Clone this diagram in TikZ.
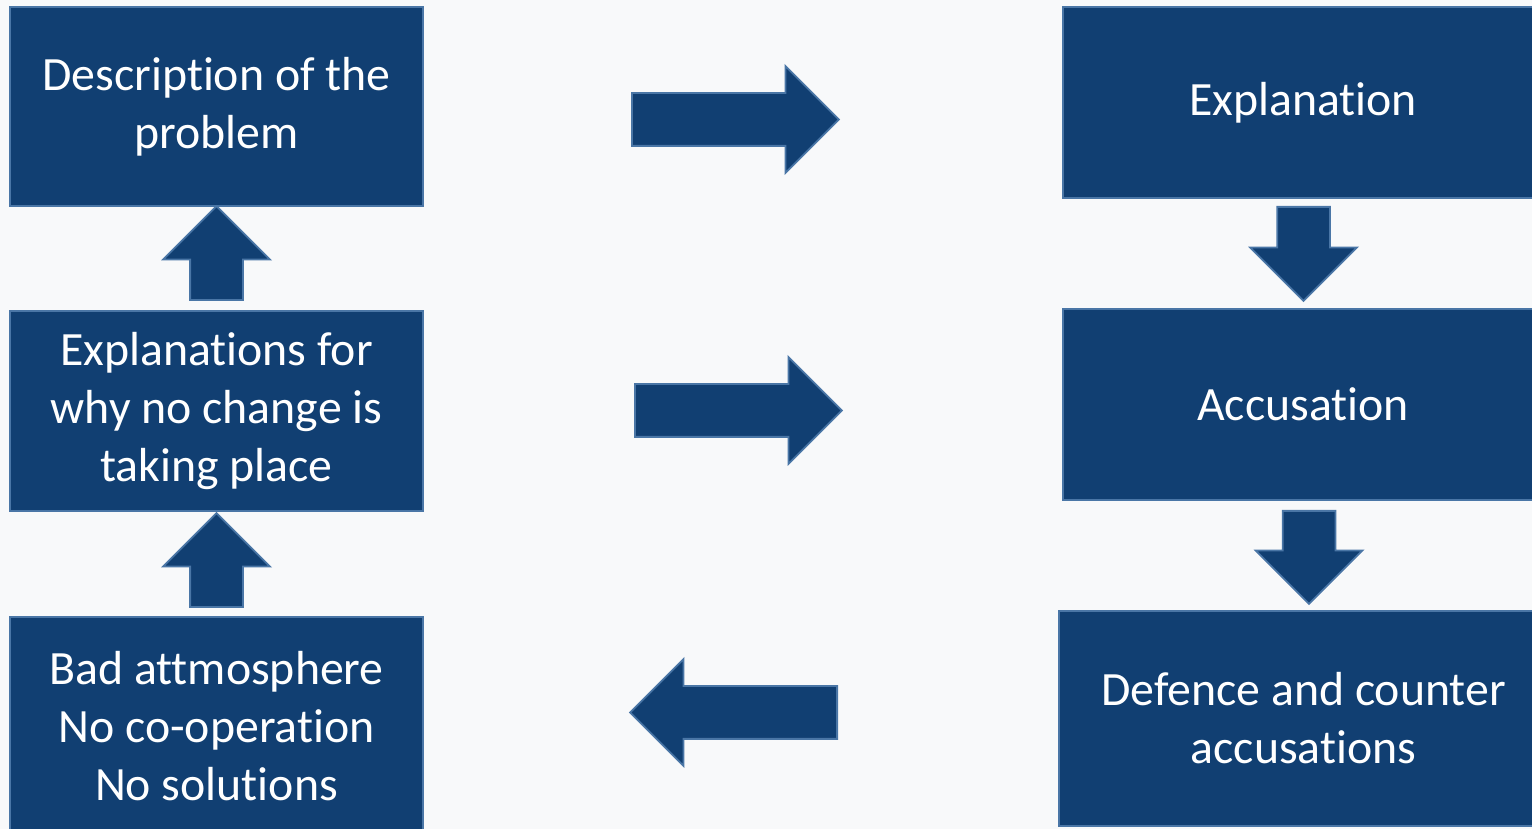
\documentclass[tikz,border=0pt]{standalone}
\usepackage{fontspec}
\setmainfont[Ligatures=NoCommon]{Carlito}
\usetikzlibrary{shapes.arrows}

\definecolor{boxblue}{HTML}{113F72}
\definecolor{edgeblue}{HTML}{4A76A6}
\definecolor{backgray}{HTML}{F8F9FA}

\tikzset{
  block/.style={rectangle, fill=boxblue, draw=edgeblue, line width=1.1pt,
    text=white, align=center, inner sep=0pt,
    font=\fontsize{27.2}{33}\selectfont},
  blockarrow/.style={single arrow, fill=boxblue, draw=edgeblue, line width=1pt,
    anchor=tail, inner xsep=0pt, inner ysep=0.51cm, single arrow head extend=0.54cm,
    single arrow tip angle=90, minimum height=#1}
}

\begin{document}
\begin{tikzpicture}

% background
\fill[backgray] (0,0) rectangle (30.64,-16.58);
\useasboundingbox (0,0) rectangle (30.64,-16.58);

% left column
\node [block, minimum width=8.26cm, minimum height=3.98cm] (descr) at (4.33,-2.13)
  {Description of the\\problem};
\node [block, minimum width=8.26cm, minimum height=4cm] (nochange) at (4.33,-8.22)
  {Explanations for\\why no change is\\taking place};
\node [block, minimum width=8.26cm, minimum height=4.36cm] (bad) at (4.33,-14.52)
  {Bad attmosphere\\No co-operation\\No solutions};

% right column
\node [block, minimum width=9.6cm, minimum height=3.82cm] (explan) at (26.06,-2.05)
  {Explanation};
\node [block, minimum width=9.6cm, minimum height=3.82cm] (accus) at (26.06,-8.09)
  {Accusation};
\node [block, minimum width=9.78cm, minimum height=4.3cm] (defence) at (26.07,-14.37)
  {Defence and counter\\accusations};

% up arrows
\node [blockarrow=1.88cm, rotate=90] (up1) at (4.33,-6.02) {};
\node [blockarrow=1.88cm, rotate=90] (up2) at (4.33,-12.16) {};

% down arrows
\node [blockarrow=1.88cm, rotate=-90] (down1) at (26.07,-4.12) {};
\node [blockarrow=1.86cm, rotate=-90] (down2) at (26.18,-10.2) {};

% across
\node [blockarrow=4.14cm] (across1) at (12.62,-2.39) {};
\node [blockarrow=4.14cm] (across2) at (12.68,-8.21) {};
\node [blockarrow=4.14cm, rotate=180] (back) at (16.76,-14.25) {};

\end{tikzpicture}
\end{document}
